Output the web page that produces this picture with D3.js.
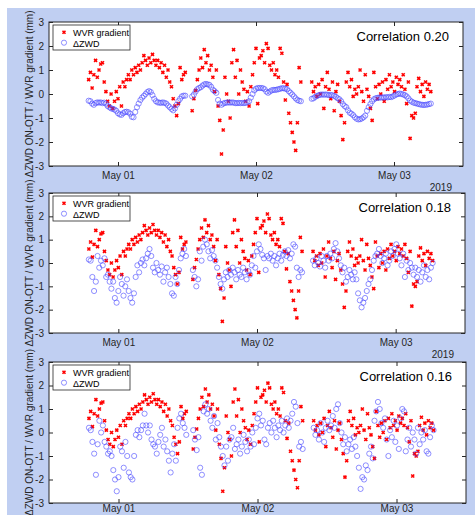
<!DOCTYPE html>
<html>
<head>
<meta charset="utf-8">
<script src="https://cdn.jsdelivr.net/npm/d3@7"></script>
<style>
  html, body { margin: 0; padding: 0; background: #fff; }
  svg { display: block; font-family: 'Liberation Sans', Arial, Helvetica, sans-serif; }
</style>
</head>
<body>
<svg id="chart" width="475" height="515"></svg>
<script>
// Epoch times, hours after 2019-05-01 00:00 (three data segments with gaps)
const hours = [
  -5.1, -4.8, -4.5, -4.2, -3.9, -3.6, -3.3, -3.0, -2.7, -2.4, -2.1, -1.8, -1.5, -1.2, -0.9, -0.6, -0.3, 0.0, 0.3, 0.6,
  0.9, 1.2, 1.5, 1.8, 2.1, 2.4, 2.7, 3.0, 3.3, 3.6, 3.9, 4.2, 4.5, 4.8, 5.1, 5.4, 5.7, 6.0, 6.3, 6.6,
  6.9, 7.2, 7.5, 7.8, 8.1, 8.4, 8.7, 9.0, 9.3, 9.6, 9.9, 10.2, 10.5, 10.8, 11.1, 11.4, 11.7,
  12.9, 13.2, 13.5, 13.8, 14.1, 14.4, 14.7, 15.0, 15.3, 15.6, 15.9, 16.2, 16.5, 16.8, 17.1, 17.4, 17.7, 18.0, 18.3, 18.6,
  18.9, 19.2, 19.5, 19.8, 20.1, 20.4, 20.7, 21.0, 21.3, 21.6, 21.9, 22.2, 22.5, 22.8, 23.1, 23.4, 23.7, 24.0, 24.3, 24.6,
  24.9, 25.2, 25.5, 25.8, 26.1, 26.4, 26.7, 27.0, 27.3, 27.6, 27.9, 28.2, 28.5, 28.8, 29.1, 29.4, 29.7, 30.0, 30.3, 30.6,
  30.9, 31.2, 31.5, 31.8,
  33.7, 34.0, 34.3, 34.6, 34.9, 35.2, 35.5, 35.8, 36.1, 36.4, 36.7, 37.0, 37.3, 37.6, 37.9, 38.2, 38.5, 38.8, 39.1, 39.4,
  39.7, 40.0, 40.3, 40.6, 40.9, 41.2, 41.5, 41.8, 42.1, 42.4, 42.7, 43.0, 43.3, 43.6, 43.9, 44.2, 44.5, 44.8, 45.1, 45.4,
  45.7, 46.0, 46.3, 46.6, 46.9, 47.2, 47.5, 47.8, 48.1, 48.4, 48.7, 49.0, 49.3, 49.6, 49.9, 50.2, 50.5, 50.8, 51.1, 51.4,
  51.7, 52.0, 52.3, 52.6, 52.9, 53.2, 53.5, 53.8, 54.1, 54.4
];

// WVR gradient (mm), same in every panel
const wvrGradient = [
  0.6, 0.9, 0.25, 0.8, 1.4, 0.7, 1.0, 1.25, 1.3, 0.5, 0.1, -0.3, -0.5, 0.0, -0.6, -0.3, 0.1, -0.2, 0.3, -0.5,
  0.5, 0.3, 0.6, 0.8, 0.6, 1.0, 0.8, 1.1, 0.9, 1.2, 1.0, 1.3, 1.6, 1.4, 1.2, 1.5, 1.3, 1.65, 1.4, 1.2,
  1.4, 1.1, 1.3, 0.9, 1.2, 0.7, 1.0, 0.5, 0.3, -0.2, -0.5, -0.9, -0.4, 1.1, 0.6, 0.8, 0.9,
  -0.7, -0.2, 0.15, 0.6, 1.0, 1.5, 1.1, 1.85, 1.3, 1.6, 1.0, 1.2, 0.7, 0.1, 1.0, -0.5, -1.1, -2.5, -1.5, 0.7,
  0.0, -0.3, -1.0, 1.3, 1.85, 0.7, 1.4, 0.0, 1.0, 0.5, 0.2, -0.3, 0.1, -0.5, 0.3, 0.8, 1.3, 1.9, -0.4, 1.5,
  1.6, 1.8, 1.3, 2.1, 1.9, 1.2, 1.0, 1.3, 0.8, 1.0, 0.7, 1.9, 1.7, 0.5, -0.25, 0.4, -0.8, -1.2, -1.6, -2.0,
  -2.35, -1.2, 1.1, 0.5,
  0.5, 0.1, 0.3, -0.1, 0.4, 0.0, 0.6, -0.6, 0.3, 0.9, 0.2, -0.2, 0.5, -0.7, 0.1, 0.4, -0.3, -0.9, -1.9, -1.2,
  0.5, 0.9, 0.3, 0.6, -0.1, 0.2, 0.0, 0.3, 1.0, 0.1, -0.3, 0.8, 0.2, -0.1, -0.6, -1.1, 0.9, 0.3, -0.2, 0.4,
  0.0, 0.5, -0.3, 0.6, 0.2, 0.8, 0.3, 0.5, 0.1, 0.7, 0.4, 0.6, 0.3, 0.8, 0.2, -0.4, 0.5, -1.85, -0.9, -1.0,
  -0.8, 0.3, 0.65, 0.1, 0.4, -0.1, 0.5, 0.2, 0.4, 0.1
];

// ΔZWD ON-OTT (mm), one series per panel
const dzwdPanel1 = [
  -0.28, -0.3, -0.4, -0.45, -0.38, -0.35, -0.36, -0.35, -0.38, -0.36, -0.4, -0.5, -0.55, -0.6, -0.62, -0.65, -0.7, -0.8, -0.85, -0.87,
  -0.8, -0.75, -0.74, -0.76, -0.82, -0.95, -0.97, -0.75, -0.55, -0.4, -0.25, -0.15, -0.08, 0.0, 0.08, 0.12, 0.08, -0.05, -0.2, -0.3,
  -0.35, -0.36, -0.37, -0.35, -0.37, -0.4, -0.48, -0.55, -0.62, -0.68, -0.6, -0.45, -0.3, -0.2, -0.1, -0.07, -0.07,
  -0.1, -0.02, 0.1, 0.2, 0.25, 0.28, 0.35, 0.4, 0.42, 0.4, 0.38, 0.3, 0.18, 0.12, 0.05, -0.25, -0.4, -0.45, -0.4, -0.37,
  -0.36, -0.35, -0.36, -0.35, -0.36, -0.38, -0.38, -0.37, -0.38, -0.37, -0.38, -0.37, -0.35, -0.3, -0.15, 0.0, 0.15, 0.22, 0.25, 0.25,
  0.25, 0.24, 0.2, 0.1, 0.05, 0.1, 0.15, 0.17, 0.17, 0.18, 0.2, 0.22, 0.24, 0.24, 0.22, 0.2, 0.12, 0.05, -0.02, -0.1,
  -0.18, -0.25, -0.28, -0.3,
  -0.2, -0.18, -0.12, -0.08, -0.05, -0.03, -0.02, -0.03, -0.02, -0.03, -0.05, -0.04, -0.05, -0.08, -0.12, -0.18, -0.22, -0.3, -0.42, -0.5,
  -0.55, -0.68, -0.78, -0.82, -0.88, -0.97, -1.03, -1.06, -1.05, -1.02, -0.97, -0.9, -0.7, -0.55, -0.42, -0.3, -0.22, -0.18, -0.16, -0.15,
  -0.15, -0.14, -0.15, -0.13, -0.14, -0.12, -0.13, -0.1, -0.06, -0.02, 0.0, 0.02, 0.0, -0.02, -0.05, -0.1, -0.18, -0.27, -0.32, -0.36,
  -0.38, -0.4, -0.42, -0.44, -0.45, -0.46, -0.45, -0.44, -0.42, -0.4
];

const dzwdPanel2 = [
  0.15, 0.1, -0.6, -1.2, -0.8, 0.3, -0.2, 0.1, -0.1, 0.2, -0.6, -0.5, -0.8, -1.1, -0.8, -1.5, -1.7, -1.2, -0.6, -0.9,
  -1.4, -1.0, -0.7, -1.2, -1.5, -1.7, -1.3, -0.6, -0.1, -0.4, 0.0, 0.15, -0.1, 0.2, 0.4, 0.6, 0.3, -0.2, -0.4, 0.0,
  -0.3, -0.5, -0.15, -0.8, -0.4, -0.2, -0.6, -0.9, -1.3, -1.4, -0.6, -0.9, -0.3, 0.2, 0.4, 0.6, 0.3,
  -0.3, -0.6, -1.0, -0.7, 0.5, 0.1, 0.7, 1.0, 0.8, 0.5, 0.2, 0.55, 0.3, 0.1, -0.2, -0.6, -0.9, -1.1, -0.7, -0.4,
  -0.6, -0.3, -0.5, -0.2, -0.4, -0.7, -0.3, -0.5, -0.6, -0.2, -0.4, -0.7, -0.35, -0.5, -0.1, 0.3, -0.2, 0.5, 0.8, 0.6,
  0.35, 0.2, -0.3, 0.3, 0.2, 0.4, 0.1, 0.3, -0.1, 0.2, 0.4, 0.1, 0.35, 0.5, 0.3, 0.55, 0.2, 0.4, 0.8, 0.7,
  -0.2, -0.6, -0.3, -0.4,
  0.1, -0.1, 0.2, 0.0, -0.15, 0.3, 0.1, -0.2, 0.3, 0.1, 0.4, 0.2, 0.6, 0.85, 0.5, 0.2, -0.1, -0.4, -0.2, -0.8,
  -0.6, -0.3, -0.5, -0.7, -0.4, -0.7, -1.3, -1.6, -1.9, -1.7, -1.5, -1.2, -0.9, -0.7, -0.3, 0.1, 0.3, 0.4, 0.6, 0.3,
  0.0, 0.2, 0.4, -0.1, 0.1, 0.5, 0.3, 0.6, 0.8, 0.4, 0.2, -0.1, 0.4, -0.6, 0.1, -0.3, 0.0, -0.2, -0.5, -0.2,
  -0.6, -0.3, -0.8, -0.4, -0.1, -0.6, -0.3, -0.7, -0.2, 0.0
];

const dzwdPanel3 = [
  0.2, 0.1, -0.4, -0.9, -1.8, -0.5, 0.5, 0.0, 0.3, -0.4, -0.6, -0.9, -0.8, -1.0, -1.6, -2.0, -2.5, -1.9, -0.6, -0.8,
  -1.5, -0.4, -1.0, -1.7, -1.9, -2.0, -1.0, -0.1, 0.1, -0.2, 0.1, 0.3, 0.8, 0.3, 0.0, 0.3, -0.3, -0.5, -0.6, -0.9,
  -0.4, -0.1, 0.2, -0.6, -0.3, -0.8, -1.2, -1.7, -0.9, -0.5, -1.2, 0.2, 0.6, 0.8, 0.4, 0.2, -0.1,
  0.1, -0.3, -0.75, -0.2, -1.5, -1.8, 0.9, 1.2, 0.8, 1.0, 0.5, 0.2, 0.7, -0.3, 0.4, -0.2, -0.6, -1.0, -1.4, -0.6,
  -1.2, -0.3, -0.2, 0.2, -0.7, -0.5, -0.3, -0.9, -0.6, -0.1, -0.4, -0.8, -0.3, -0.6, 0.0, -0.5, 0.2, 0.6, 0.8, 0.3,
  0.5, -0.3, -0.5, 0.2, 0.4, 0.0, 0.5, 0.2, -0.2, 0.3, 0.1, 0.5, 0.0, 0.3, 0.6, 0.2, 0.5, 0.8, 1.3, 1.1,
  0.4, -0.6, -0.4, -0.7,
  0.2, -0.1, 0.1, -0.3, 0.4, 0.0, -0.4, 0.2, 0.5, 0.1, 0.3, 0.7, 0.2, 1.0, 1.2, 0.4, 0.0, -0.5, -0.2, -0.8,
  -0.5, -0.3, -0.7, -0.2, -0.6, -1.0, -1.5, -2.4, -1.9, -2.0, -1.4, -1.6, -0.9, -0.6, -1.1, 0.5, 0.9, 1.3, 1.0, 0.4,
  0.2, 0.6, -0.3, -1.0, 0.1, -0.2, 0.5, -0.4, 0.3, -0.7, 0.6, 1.0, 0.9, -0.8, -0.3, 0.2, -0.6, 0.0, -0.3, -0.9,
  0.2, -0.5, 0.0, -0.3, 0.1, -0.8, -0.9, -0.2, 0.3, 0.1
];

const correlations = ['0.20', '0.18', '0.16'];
const legendLabels = ['WVR gradient', '\u0394ZWD'];
const yTicks = [-3, -2, -1, 0, 1, 2, 3];
const dayTicks = [new Date(2019, 4, 1), new Date(2019, 4, 2), new Date(2019, 4, 3)];
const yearLabel = '2019';
const yLabel = '\u0394ZWD ON-OTT / WVR gradient (mm)';

// Layout
const W = 475, H = 515;
const axisColor = '#262626';
const redColor = '#ff0000';
const blueColor = '#4646ff';
const panels = [
  { top: 22, height: 144, right: 463, pad: 6, dzwd: dzwdPanel1 },
  { top: 193, height: 140, right: 465, pad: 6, dzwd: dzwdPanel2 },
  { top: 362, height: 141, right: 466, pad: 2, dzwd: dzwdPanel3 }
];
const left = 49;

const baseDate = new Date(2019, 4, 1);
const toDate = h => new Date(baseDate.getTime() + h * 3600e3);
const xDomain = [toDate(-12), toDate(60)];

const svg = d3.select('#chart');

// Figure background
svg.append('rect')
  .attr('x', 7).attr('y', 8)
  .attr('width', W - 7).attr('height', H - 8)
  .attr('fill', '#c0cff2');

// small 'x' marker, drawn thick so it reads as a little red block
const xMark = 'M-1.5,-1.5L1.5,1.5M-1.5,1.5L1.5,-1.5';
const drawX = sel => sel
  .attr('d', xMark)
  .attr('fill', 'none')
  .attr('stroke', redColor)
  .attr('stroke-width', 1.6);

panels.forEach((p, i) => {
  const bottom = p.top + p.height;
  const x = d3.scaleTime().domain(xDomain).range([left, p.right]);
  const y = d3.scaleLinear().domain([-3, 3]).range([bottom, p.top]);
  const g = svg.append('g');

  // Axes background
  g.append('rect')
    .attr('x', left).attr('y', p.top)
    .attr('width', p.right - left).attr('height', p.height)
    .attr('fill', '#fff');

  // WVR gradient markers
  g.append('g')
    .selectAll('path')
    .data(hours.map((h, k) => [h, wvrGradient[k]]))
    .join('path')
    .call(drawX)
    .attr('transform', d => `translate(${x(toDate(d[0]))},${y(d[1])})`);

  // ΔZWD markers
  g.append('g')
    .selectAll('circle')
    .data(hours.map((h, k) => [h, p.dzwd[k]]))
    .join('circle')
    .attr('cx', d => x(toDate(d[0])))
    .attr('cy', d => y(d[1]))
    .attr('r', 2.6)
    .attr('fill', 'none')
    .attr('stroke', blueColor)
    .attr('stroke-width', 0.6);

  // Axes (ticks pointing inward)
  const styleAxis = sel => {
    sel.attr('font-family', null).attr('font-size', 10);
    sel.select('.domain').remove();
    sel.selectAll('line').attr('stroke', axisColor);
    sel.selectAll('text').attr('fill', axisColor);
  };

  g.append('g')
    .attr('transform', `translate(${left},0)`)
    .call(d3.axisLeft(y).tickValues(yTicks).tickFormat(d => String(d))
      .tickSizeInner(-4).tickSizeOuter(0).tickPadding(5))
    .call(styleAxis);

  g.append('g')
    .attr('transform', `translate(${p.right},0)`)
    .call(d3.axisRight(y).tickValues(yTicks).tickFormat('')
      .tickSizeInner(-4).tickSizeOuter(0))
    .call(styleAxis);

  g.append('g')
    .attr('transform', `translate(0,${bottom})`)
    .call(d3.axisBottom(x).tickValues(dayTicks).tickFormat(d3.timeFormat('%b %d'))
      .tickSizeInner(-4).tickSizeOuter(0).tickPadding(p.pad))
    .call(styleAxis);

  g.append('g')
    .attr('transform', `translate(0,${p.top})`)
    .call(d3.axisTop(x).tickValues(dayTicks).tickFormat('')
      .tickSizeInner(-4).tickSizeOuter(0))
    .call(styleAxis);

  // Box
  g.append('rect')
    .attr('x', left).attr('y', p.top)
    .attr('width', p.right - left).attr('height', p.height)
    .attr('fill', 'none')
    .attr('stroke', axisColor)
    .attr('stroke-width', 1);

  // Year label under the date ticks (the last one falls below the picture)
  if (bottom + 25 < H) {
    g.append('text')
      .attr('x', p.right - 11).attr('y', bottom + 25)
      .attr('text-anchor', 'end')
      .attr('font-size', 10)
      .attr('fill', axisColor)
      .text(yearLabel);
  }

  // Y label
  g.append('text')
    .attr('transform', `translate(32.5,${p.top + p.height / 2}) rotate(-90)`)
    .attr('text-anchor', 'middle')
    .attr('font-size', 10)
    .attr('fill', axisColor)
    .text(yLabel);

  // Correlation annotation
  g.append('text')
    .attr('x', p.right - 14).attr('y', p.top + 19)
    .attr('text-anchor', 'end')
    .attr('font-size', 13)
    .attr('fill', '#000')
    .text(`Correlation ${correlations[i]}`);

  // Legend
  const lg = g.append('g').attr('transform', `translate(${left + 4},${p.top + 3})`);
  lg.append('rect')
    .attr('width', 77).attr('height', 25)
    .attr('fill', '#fff')
    .attr('stroke', axisColor)
    .attr('stroke-width', 0.8);
  lg.append('path')
    .call(drawX)
    .attr('transform', 'translate(11,7.3)');
  lg.append('circle')
    .attr('cx', 11).attr('cy', 17.7).attr('r', 2.6)
    .attr('fill', 'none')
    .attr('stroke', blueColor)
    .attr('stroke-width', 0.6);
  lg.selectAll('text.lbl')
    .data(legendLabels)
    .join('text')
    .attr('class', 'lbl')
    .attr('x', 20)
    .attr('y', (d, k) => 10.5 + k * 11)
    .attr('font-size', 9)
    .attr('fill', '#000')
    .text(d => d);
});
</script>
</body>
</html>
